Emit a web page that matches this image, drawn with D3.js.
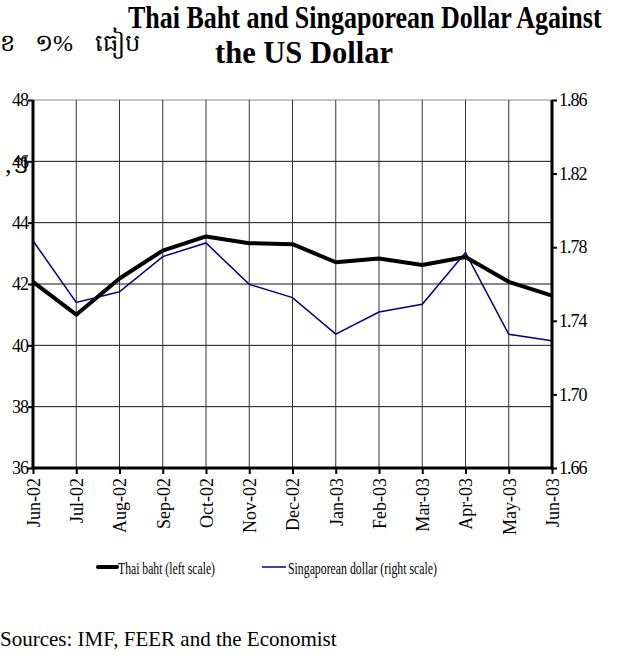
<!DOCTYPE html>
<html>
<head>
<meta charset="utf-8">
<script src="https://cdn.jsdelivr.net/npm/d3@7"></script>
<style>
  body { margin: 0; background: #fff; }
  svg { display: block; font-family: "Liberation Serif", "Times New Roman", serif; }
</style>
</head>
<body>
<div id="chart"></div>
<script>
const months = ['Jun-02', 'Jul-02', 'Aug-02', 'Sep-02', 'Oct-02', 'Nov-02', 'Dec-02',
  'Jan-03', 'Feb-03', 'Mar-03', 'Apr-03', 'May-03', 'Jun-03'];
const thaiBaht = [42.07, 41.0, 42.18, 43.09, 43.55, 43.33, 43.30, 42.71, 42.83, 42.62, 42.88, 42.07, 41.62];
const singDollar = [1.7835, 1.7500, 1.7558, 1.7749, 1.7823, 1.7598, 1.7526, 1.7328, 1.7448, 1.7490, 1.7771, 1.7327, 1.7292];
const leftTicks = [36, 38, 40, 42, 44, 46, 48];
const rightTicks = [1.66, 1.70, 1.74, 1.78, 1.82, 1.86];

const W = 620, H = 663;
const plot = { left: 33, right: 552, top: 100, bottom: 468 };

const svg = d3.select('#chart').append('svg')
  .attr('width', W)
  .attr('height', H);

const x = d3.scalePoint().domain(months).range([plot.left, plot.right]);
const yL = d3.scaleLinear().domain([36, 48]).range([plot.bottom, plot.top]);
const yR = d3.scaleLinear().domain([1.66, 1.86]).range([plot.bottom, plot.top]);

// text helper: the reference text is squeezed / stretched
function label(g, str, px, py, opts) {
  const o = Object.assign({ size: 17, sx: 1, sy: 1, anchor: 'start', weight: 'normal', rotate: 0 }, opts);
  const t = g.append('text')
    .attr('transform', `translate(${px},${py}) rotate(${o.rotate}) scale(${o.sx},${o.sy})`)
    .attr('text-anchor', o.anchor)
    .attr('font-size', o.size)
    .attr('font-weight', o.weight)
    .attr('fill', '#000')
    .text(str);
  if (o.len) t.attr('textLength', o.len).attr('lengthAdjust', 'spacingAndGlyphs');
  return t;
}

// title
label(svg, 'Thai Baht and Singaporean Dollar Against', 128, 28, { size: 26, weight: 'bold', sy: 1.25 });
label(svg, 'the US Dollar', 215, 63, { size: 26, weight: 'bold', sy: 1.25, len: 178 });

// Khmer text from the surrounding page
label(svg, 'ខ', 0, 51, { size: 24 });
label(svg, '១%', 35, 51, { size: 24 });
label(svg, 'ធៀប', 95, 51, { size: 24 });

// grid
const grid = svg.append('g');
grid.selectAll('.hg').data(leftTicks.filter(d => d > 36)).join('line')
  .attr('x1', plot.left).attr('x2', plot.right)
  .attr('y1', d => yL(d)).attr('y2', d => yL(d))
  .attr('stroke', d => d === 48 ? '#888' : '#111')
  .attr('stroke-width', 1);
grid.selectAll('.vg').data(months.slice(1, -1)).join('line')
  .attr('x1', d => x(d)).attr('x2', d => x(d))
  .attr('y1', plot.top).attr('y2', plot.bottom)
  .attr('stroke', '#333')
  .attr('stroke-width', 1);

// series
const lineL = d3.line().x((d, i) => x(months[i])).y(d => yL(d));
const lineR = d3.line().x((d, i) => x(months[i])).y(d => yR(d));

svg.append('path').datum(singDollar)
  .attr('d', lineR)
  .attr('fill', 'none')
  .attr('stroke', '#000080')
  .attr('stroke-width', 1.5);

svg.append('path').datum(thaiBaht)
  .attr('d', lineL)
  .attr('fill', 'none')
  .attr('stroke', '#000')
  .attr('stroke-width', 4)
  .attr('stroke-linejoin', 'round');

// axes
const axL = svg.append('g').attr('transform', `translate(${plot.left},0)`)
  .call(d3.axisLeft(yL).tickValues(leftTicks).tickSize(5).tickFormat(d3.format('d')));
const axR = svg.append('g').attr('transform', `translate(${plot.right},0)`)
  .call(d3.axisRight(yR).tickValues(rightTicks).tickSize(5).tickFormat(d3.format('.2f')));
const axB = svg.append('g').attr('transform', `translate(0,${plot.bottom})`)
  .call(d3.axisBottom(x).tickSize(6));

[axL, axR, axB].forEach(a => {
  a.attr('font-family', null).attr('font-size', null);
  a.select('.domain').remove();
  a.selectAll('.tick line').attr('stroke', '#000').attr('stroke-width', 2);
  a.selectAll('text').attr('font-size', 18).attr('fill', '#000').attr('letter-spacing', -1);
});
axL.selectAll('text').attr('x', -5);
axR.selectAll('text').attr('x', 7);
axB.selectAll('text')
  .attr('transform', 'rotate(-90)')
  .attr('text-anchor', 'end')
  .attr('x', -10).attr('y', 0).attr('dy', '0.35em')
  .attr('letter-spacing', 0);

// heavy axis frame
svg.append('line').attr('x1', plot.left).attr('x2', plot.left)
  .attr('y1', plot.top).attr('y2', plot.bottom + 1.5)
  .attr('stroke', '#000').attr('stroke-width', 3);
svg.append('line').attr('x1', plot.right).attr('x2', plot.right)
  .attr('y1', plot.top).attr('y2', plot.bottom + 1.5)
  .attr('stroke', '#000').attr('stroke-width', 3);
svg.append('line').attr('x1', plot.left - 1.5).attr('x2', plot.right + 1.5)
  .attr('y1', plot.bottom).attr('y2', plot.bottom)
  .attr('stroke', '#000').attr('stroke-width', 3);

// stray glyph over the 46 label in the source document
label(svg, ',ៗ', 5, 173, { size: 26 });

// legend
const leg = svg.append('g');
leg.append('line').attr('x1', 98).attr('x2', 117).attr('y1', 567).attr('y2', 567)
  .attr('stroke', '#000').attr('stroke-width', 4).attr('stroke-linecap', 'round');
leg.append('text').attr('x', 118).attr('y', 574).attr('font-size', 17)
  .attr('textLength', 97).attr('lengthAdjust', 'spacingAndGlyphs')
  .text('Thai baht (left scale)');
leg.append('line').attr('x1', 262).attr('x2', 286).attr('y1', 567).attr('y2', 567)
  .attr('stroke', '#000080').attr('stroke-width', 1.5);
leg.append('text').attr('x', 288).attr('y', 574).attr('font-size', 17)
  .attr('textLength', 149).attr('lengthAdjust', 'spacingAndGlyphs')
  .text('Singaporean dollar (right scale)');

// source note
label(svg, 'Sources: IMF, FEER and the Economist', 0, 646, { size: 21 });
</script>
</body>
</html>
